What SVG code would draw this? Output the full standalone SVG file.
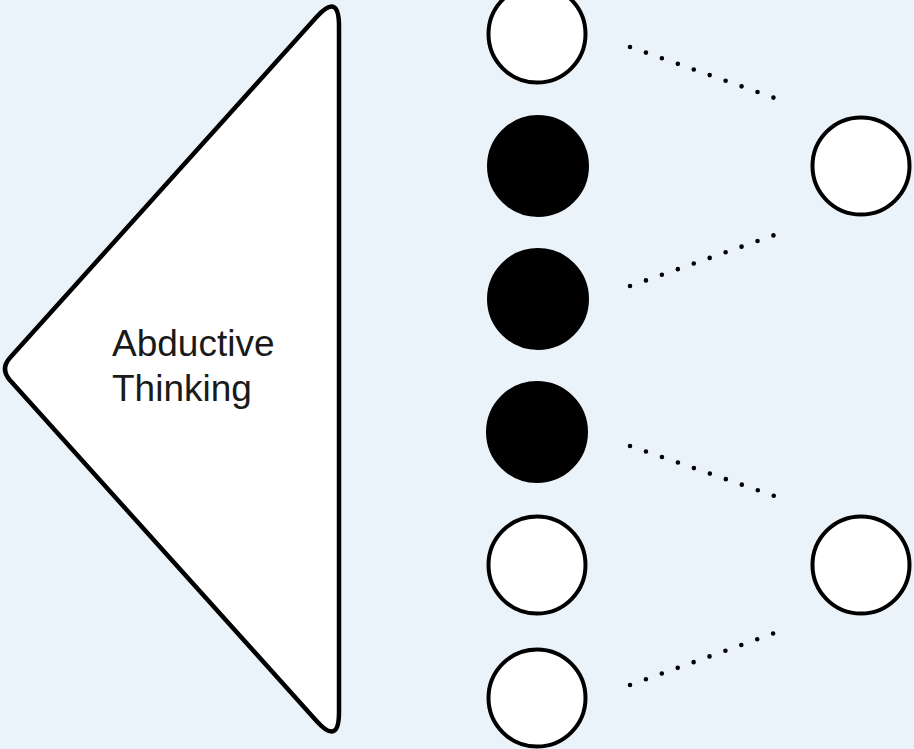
<svg xmlns="http://www.w3.org/2000/svg" width="914" height="749" viewBox="0 0 914 749">
<style>
.bg{fill:#ebf3fa}
.tri{fill:#fff;stroke:#000;stroke-width:4.5;stroke-linejoin:round}
.c{fill:#fff;stroke:#000;stroke-width:4}
.b{fill:#000;stroke:#000;stroke-width:4}
.dot{fill:none;stroke:#000;stroke-width:4.6;stroke-linecap:round;stroke-dasharray:0 16.9}
.t{font-family:"Liberation Sans",Arial,sans-serif;font-size:37px;fill:#1a1a1a}
</style>
<rect class="bg" x="0" y="0" width="914" height="749"/>
<g id="triangle">
<path class="tri" d="M339,26 L339,712 Q339,746 316.3,720.7 L10,380.2 Q0,369 10,357.8 L316.3,17.3 Q339,-8 339,26 Z"/>
<text class="t" x="112" y="356">Abductive</text>
<text class="t" x="112" y="401">Thinking</text>
</g>
<g id="n1"><circle class="c" cx="537" cy="34" r="48.5"/></g>
<g id="n2"><circle class="b" cx="538" cy="166" r="49"/></g>
<g id="n3"><circle class="b" cx="538" cy="299" r="49"/></g>
<g id="n4"><circle class="b" cx="537" cy="432" r="49"/></g>
<g id="n5"><circle class="c" cx="537" cy="565" r="48.5"/></g>
<g id="n6"><circle class="c" cx="537" cy="698" r="48.5"/></g>
<g id="r1"><circle class="c" cx="861" cy="166" r="48.5"/></g>
<g id="r2"><circle class="c" cx="861" cy="565" r="48.5"/></g>
<g id="connectors">
<line class="dot" x1="630" y1="47" x2="776" y2="98.5"/>
<line class="dot" x1="630" y1="286" x2="776" y2="234.5"/>
<line class="dot" x1="630" y1="446" x2="776" y2="496.5"/>
<line class="dot" x1="630" y1="685" x2="776" y2="632.5"/>
</g>
</svg>
